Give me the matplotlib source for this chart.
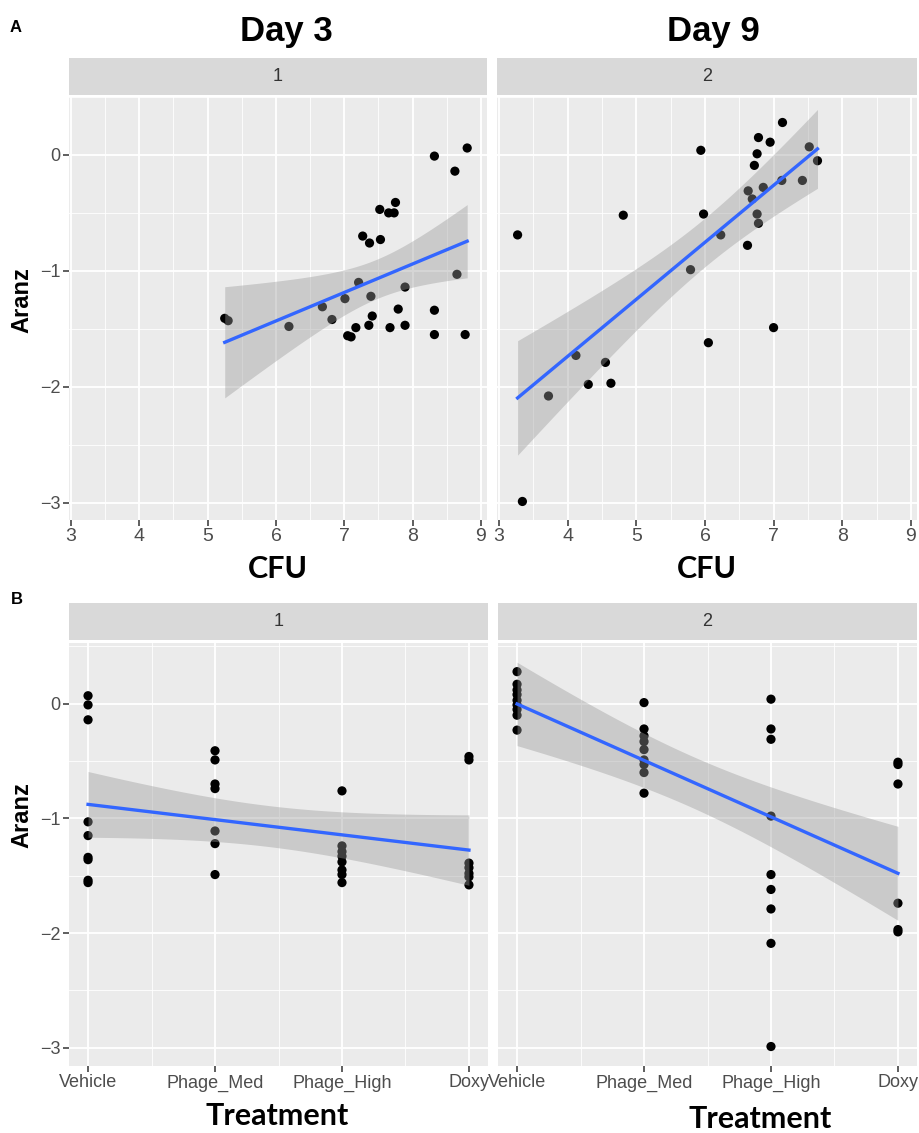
import numpy as np
import matplotlib
matplotlib.use("Agg")
import matplotlib.pyplot as plt
from matplotlib import font_manager

# ---------------- data ----------------
# Panel A, Day 3 (facet 1): CFU vs Aranz
cfu_d3 = [5.25, 5.30, 6.19, 6.68, 6.82, 7.01, 7.05, 7.10, 7.17, 7.21, 7.27, 7.37,
          7.39, 7.36, 7.41, 7.53, 7.52, 7.65, 7.73, 7.75, 7.67, 7.79, 7.89, 7.89,
          8.32, 8.32, 8.32, 8.62, 8.65, 8.77, 8.80]
aranz_d3 = [-1.41, -1.43, -1.48, -1.31, -1.42, -1.24, -1.56, -1.57, -1.49, -1.10, -0.70, -0.76,
            -1.22, -1.47, -1.39, -0.73, -0.47, -0.50, -0.50, -0.41, -1.49, -1.33, -1.14, -1.47,
            -0.01, -1.34, -1.55, -0.14, -1.03, -1.55, 0.06]

# Panel A, Day 9 (facet 2)
cfu_d9 = [3.27, 3.34, 3.72, 4.12, 4.30, 4.55, 4.63, 4.81, 5.79, 5.94, 5.98, 6.05,
          6.23, 6.62, 6.63, 6.69, 6.72, 6.76, 6.78, 6.76, 6.78, 6.85, 6.95, 7.00,
          7.12, 7.13, 7.42, 7.52, 7.64]
aranz_d9 = [-0.69, -2.99, -2.08, -1.73, -1.98, -1.79, -1.97, -0.52, -0.99, 0.04, -0.51, -1.62,
            -0.69, -0.78, -0.31, -0.38, -0.09, 0.01, 0.15, -0.51, -0.59, -0.28, 0.11, -1.49,
            -0.22, 0.28, -0.22, 0.07, -0.05]

# Panel B: treatment groups
treatments = ["Vehicle", "Phage_Med", "Phage_High", "Doxy"]

d3_vehicle = [0.07, -0.01, -0.14, -1.03, -1.15, -1.34, -1.36, -1.54, -1.56]
d3_med = [-0.41, -0.49, -0.70, -0.74, -1.11, -1.22, -1.49]
d3_high = [-0.76, -1.24, -1.29, -1.33, -1.38, -1.45, -1.49, -1.56]
d3_doxy = [-0.46, -0.49, -1.39, -1.43, -1.48, -1.51, -1.58]

d9_vehicle = [0.28, 0.17, 0.12, 0.08, 0.03, -0.01, -0.05, -0.10, -0.23]
d9_med = [0.01, -0.22, -0.28, -0.33, -0.40, -0.49, -0.53, -0.60, -0.78]
d9_high = [0.04, -0.22, -0.31, -0.98, -1.49, -1.62, -1.79, -2.09, -2.99]
d9_doxy = [-0.51, -0.53, -0.70, -1.74, -1.97, -1.99]

titles = ["Day 3", "Day 9"]
facet_labels = ["1", "2"]

# ---------------- style ----------------
names = {f.name for f in font_manager.fontManager.ttflist}
NARROW = "Liberation Sans Narrow" if "Liberation Sans Narrow" in names else "Liberation Sans"
SANS = "Liberation Sans"
BOLDF = "Lato" if "Lato" in names else "DejaVu Sans"

W, H = 919, 1133
fig = plt.figure(figsize=(W / 100, H / 100), dpi=100)

PANEL_BG = "#EBEBEB"
STRIP_BG = "#D9D9D9"
TICK_COL = "#4D4D4D"
LINE_COL = "#3366FF"


def px_axes(x0, y0, x1, y1):
    return fig.add_axes([x0 / W, 1 - y1 / H, (x1 - x0) / W, (y1 - y0) / H])


def strip(x0, y0, x1, y1, label):
    ax = px_axes(x0, y0, x1, y1)
    ax.set_facecolor(STRIP_BG)
    ax.set_xticks([]); ax.set_yticks([])
    for s in ax.spines.values():
        s.set_visible(False)
    ax.text(0.5, 0.5, label, ha="center", va="center", fontsize=13,
            color="#333333", family=NARROW, transform=ax.transAxes)


def style_panel(ax, show_y):
    ax.set_facecolor(PANEL_BG)
    for s in ax.spines.values():
        s.set_visible(False)
    ax.grid(which="major", color="white", linewidth=1.3, zorder=0)
    ax.grid(which="minor", color="white", linewidth=0.6, zorder=0)
    ax.set_axisbelow(True)
    ax.tick_params(which="minor", length=0)
    ax.tick_params(which="major", length=4, width=1.1, color="#333333",
                   labelcolor=TICK_COL, pad=2)
    ax.tick_params(axis="x", labelsize=13)
    ax.tick_params(axis="y", labelsize=13)
    if not show_y:
        ax.tick_params(axis="y", which="major", length=0, labelleft=False)
    for lab in ax.get_xticklabels() + ax.get_yticklabels():
        lab.set_family(NARROW)


def lm_fit(x, y, ax, xmin, xmax):
    x = np.asarray(x, float); y = np.asarray(y, float)
    n = len(x)
    b, a = np.polyfit(x, y, 1)
    resid = y - (a + b * x)
    s = np.sqrt(np.sum(resid ** 2) / (n - 2))
    xm = x.mean(); sxx = np.sum((x - xm) ** 2)
    xs = np.linspace(xmin, xmax, 100)
    fit = a + b * xs
    se = s * np.sqrt(1 / n + (xs - xm) ** 2 / sxx)
    t = 2.04
    ax.fill_between(xs, fit - t * se, fit + t * se, color="#999999", alpha=0.4,
                    linewidth=0, zorder=3)
    ax.plot(xs, fit, color=LINE_COL, linewidth=2.4, zorder=4)


def scatter(ax, x, y):
    ax.scatter(x, y, s=44, color="black", edgecolors="none", zorder=2)


# ---------------- panel A ----------------
YLIM_A = (-3.15, 0.50)
XLIM_A = (2.97, 9.09)
a_boxes = [(69, 97, 487, 520), (497, 97, 917, 520)]
strip(69, 58, 487, 95, facet_labels[0])
strip(497, 58, 917, 95, facet_labels[1])

for i, (cx, cy) in enumerate([(cfu_d3, aranz_d3), (cfu_d9, aranz_d9)]):
    ax = px_axes(*a_boxes[i])
    ax.set_xlim(*XLIM_A); ax.set_ylim(*YLIM_A)
    ax.set_xticks(range(3, 10))
    ax.set_xticks(np.arange(3.5, 9, 1), minor=True)
    ax.set_yticks([0, -1, -2, -3])
    ax.set_yticklabels(["0", "\u22121", "\u22122", "\u22123"])
    ax.set_yticks([0.5, -0.5, -1.5, -2.5], minor=True)
    scatter(ax, cx, cy)
    lm_fit(cx, cy, ax, min(cx), max(cx))
    style_panel(ax, i == 0)
    ax.tick_params(axis="x", labelsize=14)
    xc = (a_boxes[i][0] + a_boxes[i][2]) / 2
    fig.text(xc / W, 1 - 569 / H, "CFU", ha="center", va="center",
             fontsize=22, fontweight="bold", family=BOLDF)

fig.text(286 / W, 1 - 31 / H, titles[0], ha="center", va="center", fontsize=25,
         fontweight="bold", family=NARROW)
fig.text(713 / W, 1 - 31 / H, titles[1], ha="center", va="center", fontsize=25,
         fontweight="bold", family=NARROW)
fig.text(16 / W, 1 - 28 / H, "A", ha="center", va="center", fontsize=12,
         fontweight="bold", family=SANS)
fig.text(22 / W, 1 - 300 / H, "Aranz", ha="center", va="center", rotation=90,
         fontsize=17, fontweight="bold", family=SANS)

# ---------------- panel B ----------------
YLIM_B = (-3.16, 0.53)
XLIM_B = (0.85, 4.15)
b_boxes = [(69, 643, 488, 1066), (498, 643, 917, 1066)]
strip(69, 603, 488, 640, facet_labels[0])
strip(498, 603, 917, 640, facet_labels[1])

groups = [[d3_vehicle, d3_med, d3_high, d3_doxy], [d9_vehicle, d9_med, d9_high, d9_doxy]]
for i, grp in enumerate(groups):
    ax = px_axes(*b_boxes[i])
    xs, ys = [], []
    for k, vals in enumerate(grp):
        xs += [k + 1] * len(vals)
        ys += list(vals)
    ax.set_xlim(*XLIM_B); ax.set_ylim(*YLIM_B)
    ax.set_xticks([1, 2, 3, 4])
    ax.set_xticklabels(treatments)
    ax.set_xticks([1.5, 2.5, 3.5], minor=True)
    ax.set_yticks([0, -1, -2, -3])
    ax.set_yticklabels(["0", "\u22121", "\u22122", "\u22123"])
    ax.set_yticks([0.5, -0.5, -1.5, -2.5], minor=True)
    scatter(ax, xs, ys)
    lm_fit(xs, ys, ax, 1, 4)
    style_panel(ax, i == 0)

fig.text(277 / W, 1 - 1116 / H, "Treatment", ha="center", va="center",
         fontsize=22, fontweight="bold", family=BOLDF)
fig.text(760 / W, 1 - 1119 / H, "Treatment", ha="center", va="center",
         fontsize=22, fontweight="bold", family=BOLDF)
fig.text(17 / W, 1 - 600 / H, "B", ha="center", va="center", fontsize=12,
         fontweight="bold", family=SANS)
fig.text(22 / W, 1 - 815 / H, "Aranz", ha="center", va="center", rotation=90,
         fontsize=17, fontweight="bold", family=SANS)

fig.savefig("out.png", dpi=100, facecolor="white")
